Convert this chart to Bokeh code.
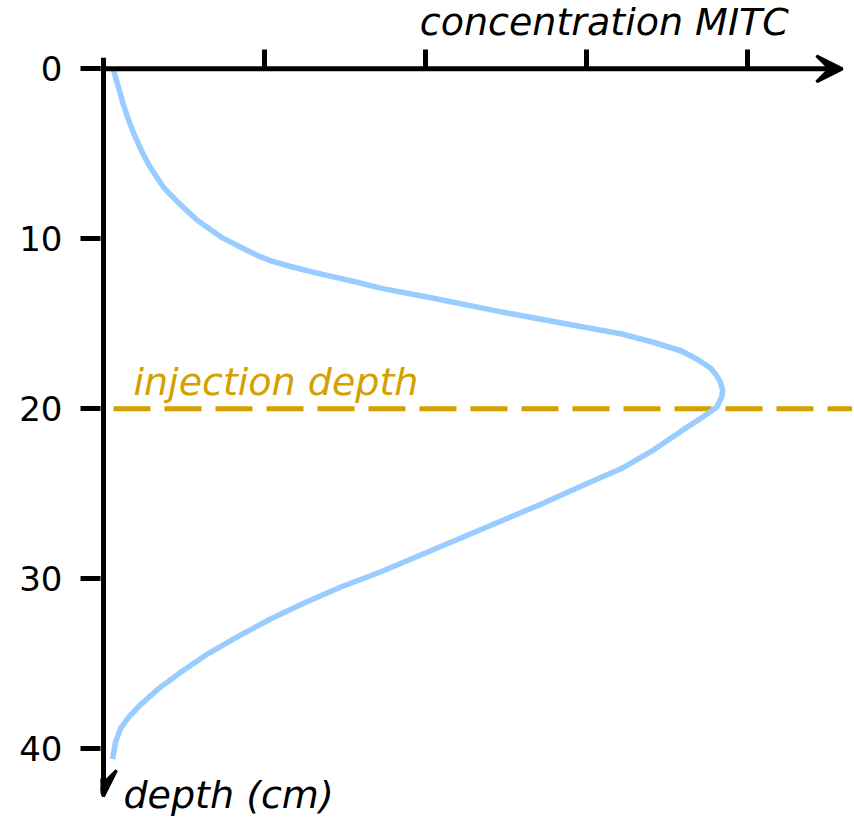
from bokeh.plotting import figure
from bokeh.models import Range1d, FixedTicker, Arrow, VeeHead, Label, LinearAxis
from bokeh.embed import file_html
from bokeh.resources import INLINE

# ---- data ----
depth = [0.0, 1.0, 2.0, 3.0, 3.85, 5.0, 5.8, 7.0, 7.8, 8.9, 9.9, 10.5, 11.0, 11.3, 11.6, 12.0,
         12.5, 12.9, 13.5, 14.3, 15.0, 15.6, 16.1, 16.6, 17.1, 17.6, 18.0, 18.4, 18.9, 19.3,
         19.9, 20.5, 21.3, 22.4, 23.5, 24.5, 25.6, 26.6, 27.6, 28.6, 29.6, 30.5, 31.5,
         32.4, 33.3, 34.4, 35.5, 36.4, 37.4, 38.1, 38.8, 39.6, 40.6]
conc = [0.06, 0.09, 0.12, 0.155, 0.19, 0.245, 0.29, 0.375, 0.457, 0.58, 0.73, 0.853, 0.96, 1.04,
        1.15, 1.32, 1.55, 1.72, 2.05, 2.47, 2.87, 3.22, 3.42, 3.59, 3.69, 3.77, 3.805, 3.83,
        3.846, 3.84, 3.81, 3.72, 3.59, 3.42, 3.22, 2.98, 2.72, 2.47, 2.22, 1.97, 1.72, 1.47,
        1.23, 1.03, 0.853, 0.65, 0.48, 0.35, 0.23, 0.16, 0.106, 0.075, 0.056]
depth_ticks = [0, 10, 20, 30, 40]
conc_ticks = [1, 2, 3, 4]
injection_depth = 20
injection_x = [0.062, 4.8]

PX_X = 161.0   # px per concentration unit
PX_Y = 17.0    # px per cm
LEFT = 100     # frame left (px)
FW, FH = 752, 819
x0 = -3 / PX_X
y0 = -68.3 / PX_Y

p = figure(frame_width=FW, frame_height=FH, output_backend="svg", toolbar_location=None,
           x_range=Range1d(x0, x0 + FW / PX_X), y_range=Range1d(y0 + FH / PX_Y, y0),
           x_axis_location=None, y_axis_location=None,
           min_border_left=LEFT, min_border_top=0, min_border_right=0, min_border_bottom=0)
p.outline_line_color = None
p.background_fill_color = "white"
p.border_fill_color = "white"
p.xgrid.visible = False
p.ygrid.visible = False

# left axis (depth) at the frame's left edge
ya = LinearAxis()
ya.ticker = FixedTicker(ticks=depth_ticks)
ya.axis_line_color = None
ya.major_tick_out = 20
ya.major_tick_in = 0
ya.major_tick_line_width = 5
ya.major_tick_line_color = "black"
ya.minor_tick_line_color = None
ya.major_label_text_font = "DejaVu Sans"
ya.major_label_text_font_size = "34px"
ya.major_label_text_color = "black"
ya.major_label_standoff = 18
p.add_layout(ya, "left")

# concentration axis ticks positioned at depth = 0 (pointing upward)
xa = LinearAxis(fixed_location=0)
xa.ticker = FixedTicker(ticks=conc_ticks)
xa.axis_line_color = None
xa.major_tick_out = 0
xa.major_tick_in = 19
xa.major_tick_line_width = 5
xa.major_tick_line_color = "black"
xa.minor_tick_line_color = None
xa.major_label_text_font_size = "0px"
xa.major_label_text_alpha = 0
xa.major_label_standoff = 0
p.add_layout(xa, "below")

# axis lines with arrow heads
p.add_layout(Arrow(end=VeeHead(size=26, fill_color="black", line_color="black", line_width=3),
                   x_start=0, y_start=-0.65, x_end=0, y_end=42.8,
                   line_width=5, line_color="black"))
p.add_layout(Arrow(end=VeeHead(size=26, fill_color="black", line_color="black", line_width=3),
                   x_start=-0.062, y_start=0, x_end=4.59, y_end=0,
                   line_width=5, line_color="black"))

# injection depth dashed line
p.line(injection_x, [injection_depth, injection_depth], line_color="#D3A000",
       line_width=5, line_dash="37 14")

# concentration curve
p.line(conc, depth, line_color="#99CCFF", line_width=5.5, line_join="round")

# labels
p.add_layout(Label(x=1.965, y=-2.75, text="concentration MITC", text_font="DejaVu Sans",
                   text_font_style="italic", text_font_size="38px", text_color="black",
                   text_baseline="alphabetic"))
p.add_layout(Label(x=0.124, y=42.7, text="depth (cm)", text_font="DejaVu Sans",
                   text_font_style="italic", text_font_size="38px", text_color="black",
                   text_baseline="alphabetic"))
p.add_layout(Label(x=0.186, y=18.4, text="injection depth", text_font="DejaVu Sans",
                   text_font_style="italic", text_font_size="38px", text_color="#D3A000",
                   text_baseline="alphabetic"))

open("out.html", "w").write(file_html(p, INLINE))
